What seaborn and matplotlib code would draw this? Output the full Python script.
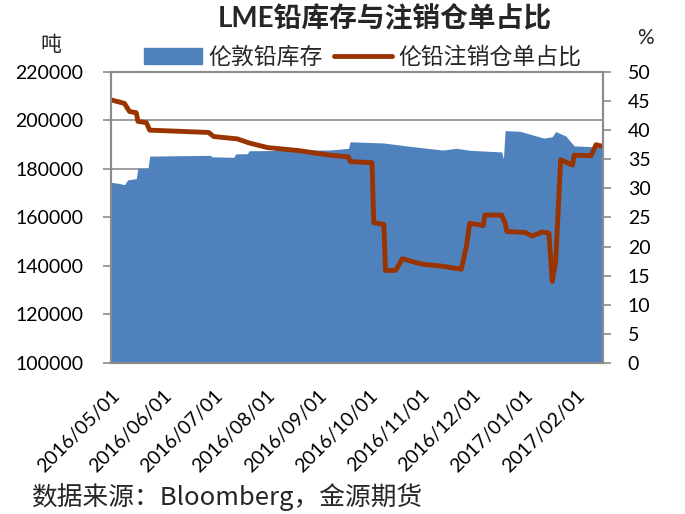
import pandas as pd
import numpy as np
import matplotlib
matplotlib.use("Agg")
import matplotlib.pyplot as plt
import matplotlib.dates as mdates
import seaborn as sns

# LME lead stock (tonnes)
stock_dates = ["2016-05-01", "2016-05-06", "2016-05-09", "2016-05-11", "2016-05-16",
               "2016-05-17", "2016-05-23", "2016-05-24", "2016-06-29", "2016-06-30",
               "2016-07-13", "2016-07-14", "2016-07-21", "2016-07-22", "2016-09-08",
               "2016-09-19", "2016-09-20", "2016-10-10", "2016-10-20", "2016-11-01",
               "2016-11-14", "2016-11-22", "2016-11-30", "2016-12-19", "2016-12-20",
               "2016-12-21", "2016-12-30", "2017-01-13", "2017-01-18", "2017-01-20",
               "2017-01-26", "2017-01-31", "2017-02-17"]
stock_values = [174500, 174000, 173500, 175500, 176000,
                180300, 180300, 185300, 185600, 185000,
                184800, 186200, 186300, 187500, 187800,
                188500, 191200, 190700, 189800, 188800,
                187800, 188500, 187700, 187000, 184100,
                195800, 195500, 192700, 193300, 195400,
                193600, 189500, 189000]

# cancelled warrants ratio (%)
ratio_dates = ["2016-05-01", "2016-05-09", "2016-05-12", "2016-05-16", "2016-05-17",
               "2016-05-22", "2016-05-24", "2016-06-28", "2016-07-01", "2016-07-15",
               "2016-07-22", "2016-08-02", "2016-08-20", "2016-09-08", "2016-09-19",
               "2016-09-20", "2016-10-03", "2016-10-04", "2016-10-10", "2016-10-11",
               "2016-10-17", "2016-10-21", "2016-11-01", "2016-11-14", "2016-11-25",
               "2016-11-28", "2016-11-30", "2016-12-08", "2016-12-09", "2016-12-19",
               "2016-12-21", "2016-12-22", "2017-01-02", "2017-01-06", "2017-01-12",
               "2017-01-16", "2017-01-18", "2017-01-20", "2017-01-23", "2017-01-27",
               "2017-01-30", "2017-01-31", "2017-02-10", "2017-02-13", "2017-02-17"]
ratio_values = [45.2, 44.6, 43.2, 43.0, 41.5,
                41.3, 40.0, 39.6, 38.9, 38.5,
                37.8, 37.0, 36.5, 35.7, 35.4,
                34.6, 34.4, 24.1, 23.8, 15.9,
                15.9, 17.9, 17.0, 16.6, 16.1,
                20.0, 24.0, 23.6, 25.4, 25.4,
                24.0, 22.6, 22.4, 21.8, 22.5,
                22.3, 14.0, 17.4, 34.9, 34.4,
                34.0, 35.7, 35.6, 37.5, 37.2]

tick_dates = ["2016-05-01", "2016-06-01", "2016-07-01", "2016-08-01", "2016-09-01",
              "2016-10-01", "2016-11-01", "2016-12-01", "2017-01-01", "2017-02-01"]

stock = pd.DataFrame({"date": pd.to_datetime(stock_dates), "stock": stock_values})
ratio = pd.DataFrame({"date": pd.to_datetime(ratio_dates), "ratio": ratio_values})

sns.set_style("white")
plt.rcParams["font.family"] = ["Lato", "Noto Sans CJK SC", "DejaVu Sans"]
cjk = ["Noto Sans CJK SC", "DejaVu Sans"]

blue = "#4F81BD"
red = "#993300"
grey = "#8C8C8C"

fig = plt.figure(figsize=(6.85, 5.14), dpi=100)
ax = fig.add_axes([0.162, 0.294, 0.718, 0.566])
ax2 = ax.twinx()

# stock area
ax.fill_between(stock["date"], stock["stock"], 0, color=blue, lw=0, zorder=2)
ax.set_ylim(100000, 220000)
ax.set_yticks(np.arange(100000, 220001, 20000))
ax.grid(axis="y", color=grey, lw=1.2, zorder=0)
ax.set_axisbelow(True)

# ratio line
sns.lineplot(data=ratio, x="date", y="ratio", ax=ax2, color=red, lw=3.5,
             legend=False)
ax2.set_ylim(0, 50)
ax2.set_yticks(np.arange(0, 51, 5))

ax.set_xlim(pd.Timestamp("2016-05-01"), pd.Timestamp("2017-02-17"))
ax.set_xticks(pd.to_datetime(tick_dates))
ax.xaxis.set_major_formatter(mdates.DateFormatter("%Y/%m/%d"))
for lab in ax.get_xticklabels():
    lab.set_rotation(45)
    lab.set_ha("right")
    lab.set_rotation_mode("anchor")

for a in (ax, ax2):
    a.set_xlabel("")
    a.set_ylabel("")
    for s in a.spines.values():
        s.set_color(grey)
        s.set_linewidth(1.5)
    a.tick_params(axis="both", colors="black", labelsize=14, length=6, width=1.2,
                  direction="out", color=grey)
ax.tick_params(axis="y", pad=14)
ax.tick_params(axis="x", pad=11)
ax2.tick_params(axis="y", pad=12)

# legend
handles = [plt.Rectangle((0, 0), 1, 1, color=blue),
           plt.Line2D([0], [0], color=red, lw=3.5)]
fig.legend(handles, ["伦敦铅库存", "伦铅注销仓单占比"], loc="center", ncol=2,
           bbox_to_anchor=(0.53, 0.889), frameon=False,
           prop={"family": cjk, "size": 16.5}, handlelength=2.5,
           handletextpad=0.3, columnspacing=0.5)

fig.text(0.562, 0.963, "LME铅库存与注销仓单占比", ha="center", va="center",
         fontsize=20, fontweight="bold", family=["Lato", "Noto Sans CJK SC"])
fig.text(0.074, 0.912, "吨", ha="center", va="center", fontsize=15, family=cjk)
fig.text(0.942, 0.926, "%", ha="center", va="center", fontsize=15)
fig.text(0.045, 0.033, "数据来源：Bloomberg，金源期货", ha="left", va="center",
         fontsize=18.5, family=cjk)

fig.savefig("out.png", dpi=100)
